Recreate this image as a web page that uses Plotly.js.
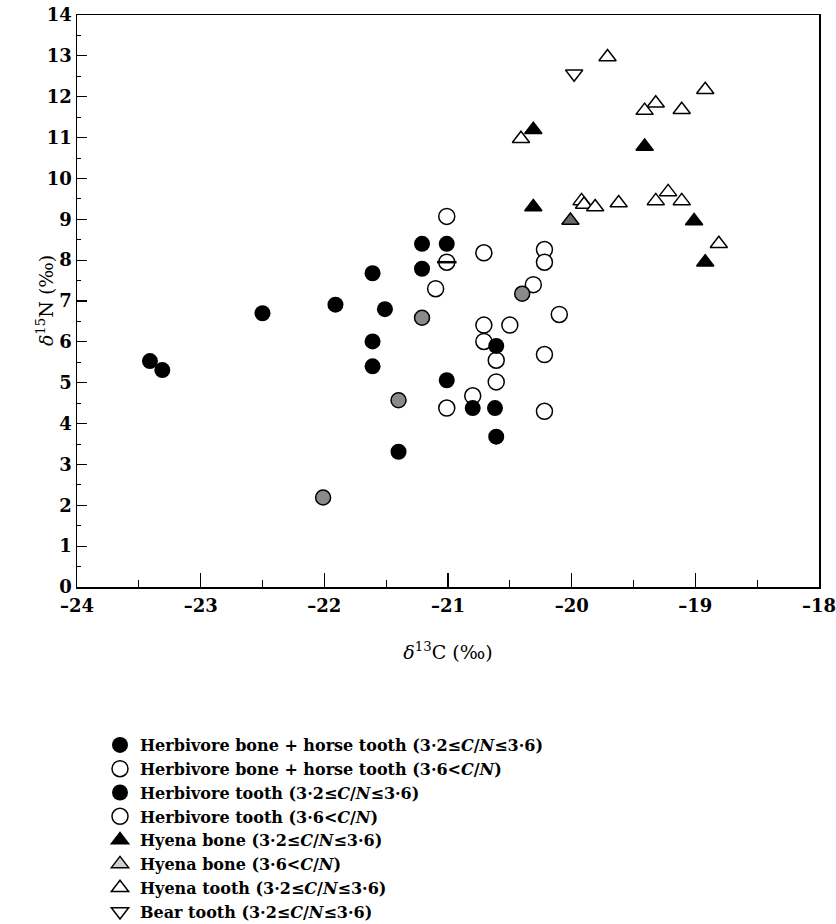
<!DOCTYPE html>
<html><head><meta charset="utf-8">
<script src="https://cdn.plot.ly/plotly-3.0.1.min.js"></script>
<style>body{margin:0;background:#fff}</style>
</head><body><div id="chart" style="width:836px;height:924px"></div>
<script>
// Herbivore bone + horse tooth (3.2<=C/N<=3.6) - filled circles
const hbFilledX = [-23.41, -23.31, -22.50, -21.91, -21.61, -21.51, -21.61, -21.61, -21.21, -21.01, -21.21, -21.01, -21.40, -20.80, -20.62, -20.61, -20.61];
const hbFilledY = [5.53, 5.31, 6.70, 6.91, 7.68, 6.80, 6.01, 5.40, 8.40, 8.40, 7.79, 5.06, 3.31, 4.38, 4.38, 5.90, 3.68];
// Herbivore bone + horse tooth (3.6<C/N) - open circles
const hbOpenX = [-21.01, -20.71, -21.10, -20.71, -20.71, -21.01, -20.80, -20.61, -20.61, -20.50, -20.22, -20.22, -20.31, -20.10, -20.22, -20.22];
const hbOpenY = [9.07, 8.18, 7.30, 6.41, 6.01, 4.38, 4.68, 5.55, 5.02, 6.41, 8.26, 7.95, 7.40, 6.67, 5.69, 4.30];
// Herbivore tooth (3.2<=C/N<=3.6) - hatched circles
const htX = [-21.21, -21.40, -20.40, -22.01];
const htY = [6.59, 4.57, 7.18, 2.19];
// Herbivore tooth (3.6<C/N)
const htOpenX = [-21.01];
const htOpenY = [7.95];
// Hyena bone (3.2<=C/N<=3.6) - filled triangles
const hyBoneX = [-20.31, -19.41, -20.31, -19.01, -18.92];
const hyBoneY = [11.19, 10.78, 9.30, 8.96, 7.95];
// Hyena bone (3.6<C/N)
const hyBoneOpenX = [-20.01];
const hyBoneOpenY = [8.97];
// Hyena tooth (3.2<=C/N<=3.6) - open triangles
const hyToothX = [-19.71, -19.41, -19.32, -19.11, -18.92, -20.41, -19.92, -19.90, -19.81, -19.62, -19.32, -19.22, -19.11, -18.81];
const hyToothY = [12.97, 11.66, 11.84, 11.68, 12.17, 10.97, 9.45, 9.36, 9.30, 9.40, 9.45, 9.67, 9.45, 8.40];
// Bear tooth (3.2<=C/N<=3.6)
const bearX = [-19.98];
const bearY = [12.56];

const legendNames = [
  'Herbivore bone + horse tooth (3·2≤<i>C</i>/<i>N</i>≤3·6)',
  'Herbivore bone + horse tooth (3·6<<i>C</i>/<i>N</i>)',
  'Herbivore tooth (3·2≤<i>C</i>/<i>N</i>≤3·6)',
  'Herbivore tooth (3·6<<i>C</i>/<i>N</i>)',
  'Hyena bone (3·2≤<i>C</i>/<i>N</i>≤3·6)',
  'Hyena bone (3·6<<i>C</i>/<i>N</i>)',
  'Hyena tooth (3·2≤<i>C</i>/<i>N</i>≤3·6)',
  'Bear tooth (3·2≤<i>C</i>/<i>N</i>≤3·6)'
];
const xTickVals = [-24, -23, -22, -21, -20, -19, -18];
const xTickText = ['–24', '–23', '–22', '–21', '–20', '–19', '–18'];
const yTickVals = [0,1,2,3,4,5,6,7,8,9,10,11,12,13,14];
const xTitle = '<i>δ</i><sup>13</sup>C (‰)';
const yTitle = '<i>δ</i><sup>15</sup>N (‰)';

const LW = 1.5;
const CS = 16, TS = 15;
const traces = [
  {x: hbOpenX, y: hbOpenY, name: legendNames[1], legendrank: 2, mode: 'markers', type: 'scatter',
   marker: {symbol: 'circle', size: CS, color: '#fff', line: {color: '#000', width: LW}}},
  {x: htOpenX, y: htOpenY, name: legendNames[3], legendrank: 4, mode: 'markers', type: 'scatter', legendgroup: 'ht',
   marker: {symbol: 'circle', size: CS, color: '#fff', line: {color: '#000', width: LW}}},
  {x: htOpenX, y: htOpenY, showlegend: false, legendgroup: 'ht', mode: 'markers', type: 'scatter',
   marker: {symbol: 'line-ew', size: CS - 2, line: {color: '#000', width: 2.5}}},
  {x: hbFilledX, y: hbFilledY, name: legendNames[0], legendrank: 1, mode: 'markers', type: 'scatter',
   marker: {symbol: 'circle', size: CS, color: '#000', line: {color: '#000', width: 0}}},
  {x: htX, y: htY, showlegend: false, legendgroup: 'htf', mode: 'markers', type: 'scatter',
   marker: {symbol: 'circle', size: CS - 1, color: '#8a8a8a', line: {color: '#000', width: LW}}},
  {x: [null], y: [null], name: legendNames[2], legendrank: 3, legendgroup: 'htf', mode: 'markers', type: 'scatter',
   marker: {symbol: 'circle', size: CS, color: '#000', line: {color: '#000', width: 0}}},
  {x: hyToothX, y: hyToothY, name: legendNames[6], legendrank: 7, mode: 'markers', type: 'scatter',
   marker: {symbol: 'triangle-up', size: TS, color: '#fff', line: {color: '#000', width: LW}}},
  {x: hyBoneX, y: hyBoneY, name: legendNames[4], legendrank: 5, mode: 'markers', type: 'scatter',
   marker: {symbol: 'triangle-up', size: TS, color: '#000', line: {color: '#000', width: LW}}},
  {x: hyBoneOpenX, y: hyBoneOpenY, showlegend: false, legendgroup: 'hbo', mode: 'markers', type: 'scatter',
   marker: {symbol: 'triangle-up', size: TS, color: '#6a6a6a', line: {color: '#000', width: LW}}},
  {x: [null], y: [null], name: legendNames[5], legendrank: 6, legendgroup: 'hbo', mode: 'markers', type: 'scatter',
   marker: {symbol: 'triangle-up', size: TS, color: '#cfcfcf', line: {color: '#000', width: LW}}},
  {x: bearX, y: bearY, name: legendNames[7], legendrank: 8, mode: 'markers', type: 'scatter',
   marker: {symbol: 'triangle-down', size: TS, color: '#fff', line: {color: '#000', width: LW}}}
];

const fontFam = '"DejaVu Serif", "Liberation Serif", serif';
const layout = {
  width: 836, height: 924,
  margin: {l: 77, r: 17, t: 15, b: 337, autoexpand: false},
  paper_bgcolor: '#fff', plot_bgcolor: '#fff',
  font: {family: fontFam, color: '#000', size: 16},
  showlegend: true,
  legend: {x: 0.031, y: -0.2465, xanchor: 'left', yanchor: 'top', traceorder: 'normal',
           font: {family: fontFam, size: 16, color: '#000', weight: 'bold'}, bgcolor: 'rgba(0,0,0,0)', tracegroupgap: 0},
  xaxis: {
    range: [-24, -18], showline: true, mirror: true, linecolor: '#000', linewidth: 1.5,
    ticks: 'inside', ticklen: 14, tickwidth: 1.2, tickcolor: '#000',
    tickvals: xTickVals, ticktext: xTickText, showgrid: false, zeroline: false,
    tickfont: {family: fontFam, size: 18, weight: 'bold'}, ticklabelstandoff: 2, ticklabeloverflow: 'allow',
    minor: {dtick: 0.5, ticks: 'inside', ticklen: 7, tickwidth: 1, tickcolor: '#000', showgrid: false},
    title: {text: xTitle, font: {family: fontFam, size: 19}, standoff: 30}
  },
  yaxis: {
    range: [0, 14], showline: true, mirror: true, linecolor: '#000', linewidth: 1.5,
    ticks: 'inside', ticklen: 10, tickwidth: 1.2, tickcolor: '#000',
    tickvals: yTickVals, showgrid: false, zeroline: false, ticklabeloverflow: 'allow',
    tickfont: {family: fontFam, size: 18, weight: 'bold'},
    minor: {dtick: 0.5, ticks: 'inside', ticklen: 4, tickwidth: 1, tickcolor: '#000', showgrid: false}
  },
  annotations: [{
    text: yTitle, xref: 'paper', yref: 'paper', x: -0.043, y: 0.5, xanchor: 'center', yanchor: 'middle',
    textangle: -90, showarrow: false, font: {family: fontFam, size: 19, color: '#000'}
  }]
};
Plotly.newPlot('chart', traces, layout, {displayModeBar: false, staticPlot: true});
</script></body></html>
